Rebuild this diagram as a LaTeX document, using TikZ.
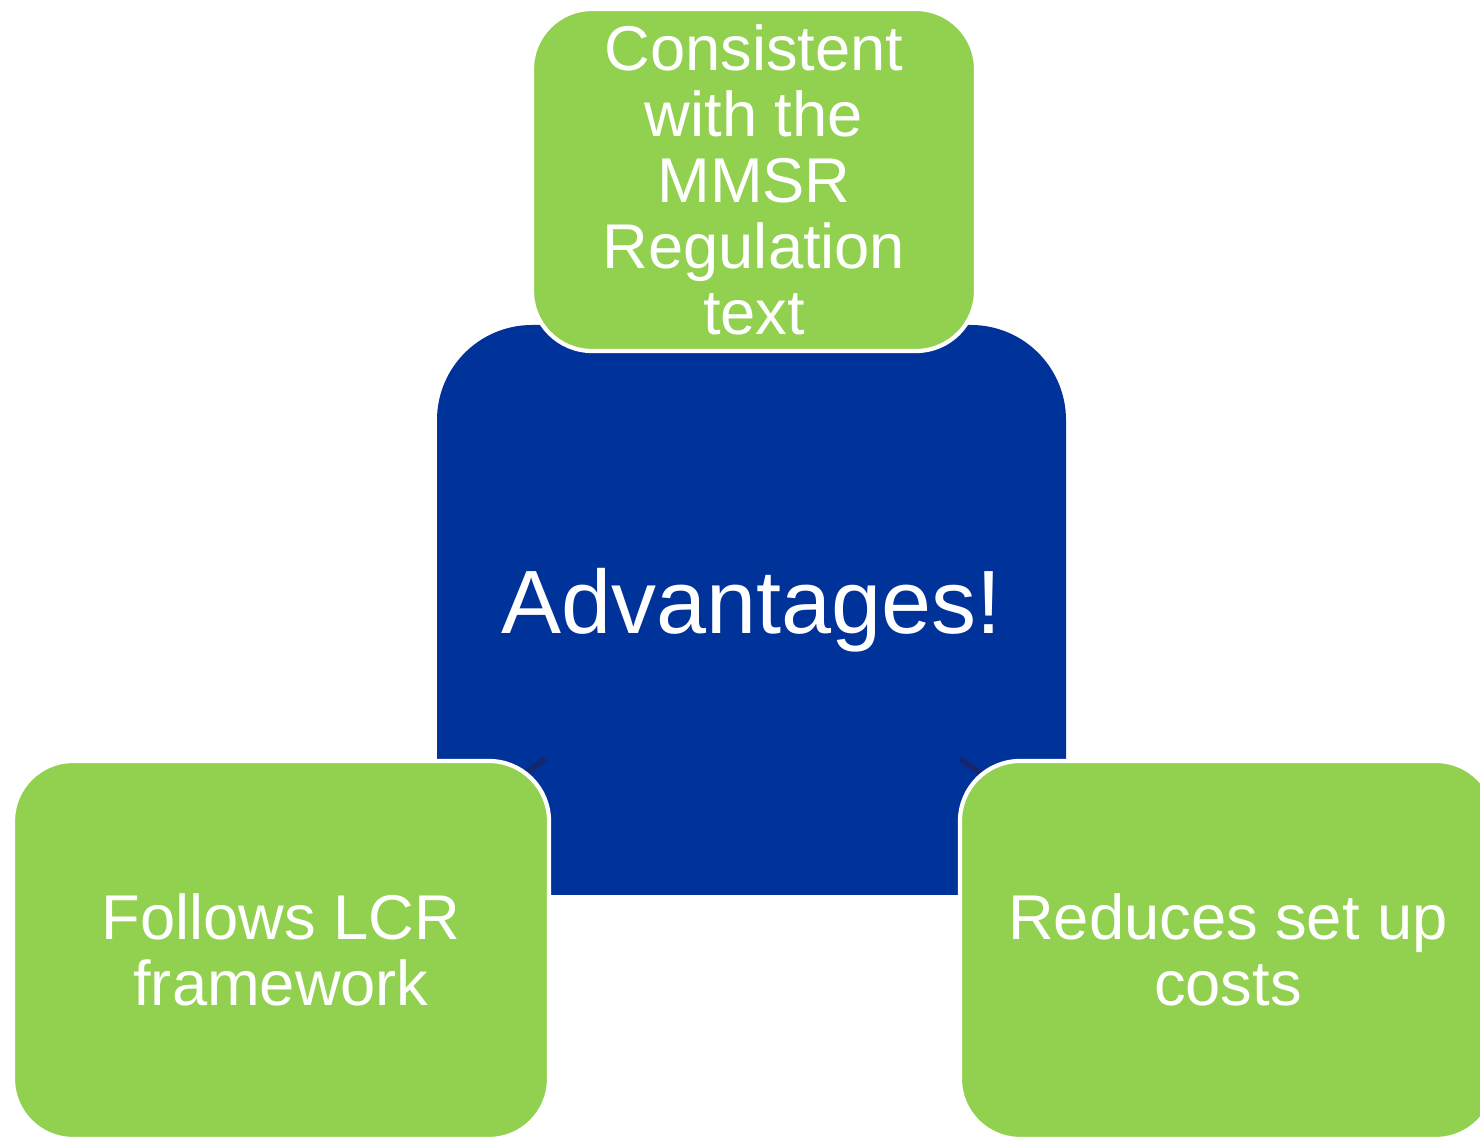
\documentclass[tikz,border=0pt]{standalone}
\usepackage{fontspec}
\setmainfont{Liberation Sans}
\pgfdeclarelayer{back}
\pgfdeclarelayer{mid}
\pgfsetlayers{back,mid,main}
\definecolor{hubblue}{RGB}{0,51,153}
\definecolor{leafgreen}{RGB}{146,208,80}
\definecolor{linkblue}{RGB}{22,38,110}
\begin{document}
\begin{tikzpicture}[
    hub/.style={fill=hubblue, rounded corners=0.95cm, minimum width=6.29cm, minimum height=5.7cm, text=white, font=\fontsize{25.6}{28}\selectfont},
    leaf/.style={fill=leafgreen, draw=white, line width=1.2pt, rounded corners=0.6cm, text=white, align=center, inner sep=2pt, font=\fontsize{18}{18.8}\selectfont},
    link/.style={draw=linkblue, line width=1.6pt}
  ]
        \useasboundingbox (0,0) rectangle (14.8,-11.38);
		\clip (0,0) rectangle (14.8,-11.38);
		\begin{pgfonlayer}{back}
		\node[hub] (adv) at (7.515,-6.10) {Advantages!};
		\end{pgfonlayer}
		\node[leaf, minimum width=4.44cm, minimum height=3.42cm] (mmsr) at (7.54,-1.80) {Consistent\\with the\\MMSR\\Regulation\\text};
		\node[leaf, minimum width=5.36cm, minimum height=3.78cm] (lcr) at (2.81,-9.50) {Follows LCR\\framework};
		\node[leaf, minimum width=5.36cm, minimum height=3.78cm] (cost) at (12.28,-9.50) {Reduces set up\\costs};
		\begin{pgfonlayer}{mid}
		\draw[link] (adv) -- (mmsr);
		\draw[link] (adv) -- (lcr);
		\draw[link] (adv) -- (cost);
		\end{pgfonlayer}
    \end{tikzpicture}
\end{document}
